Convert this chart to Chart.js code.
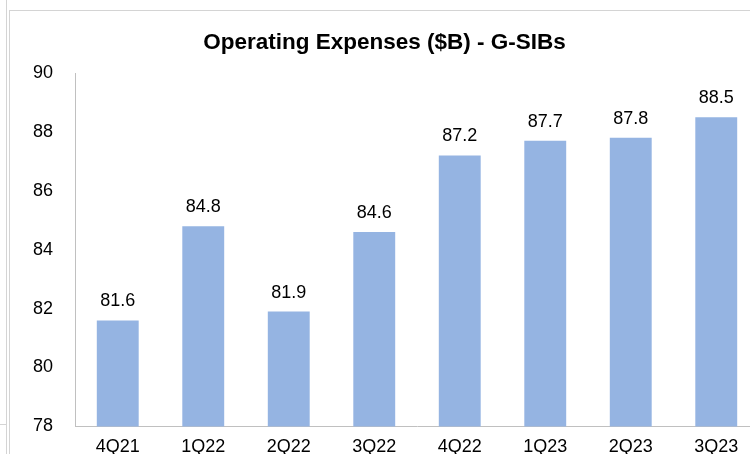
<!DOCTYPE html>
<html>
<head>
<meta charset="utf-8">
<script src="https://cdn.jsdelivr.net/npm/chart.js@4.4.0/dist/chart.umd.min.js"></script>
<style>
  html, body { margin: 0; padding: 0; background: #fff; overflow: hidden; width: 750px; height: 454px; }
  .frameLeft { position: absolute; left: 6px; top: 0; width: 1px; height: 454px; background: #d4d4d4; }
  .frameTick { position: absolute; left: 0; top: 424px; width: 6px; height: 1px; background: #d4d4d4; }
  .box { position: absolute; left: 9px; top: 10px; width: 760px; height: 470px; border-left: 1px solid #d4d4d4; border-top: 1px solid #d4d4d4; }
  .wrap { position: absolute; left: 10px; top: 11px; width: 752px; height: 457px; }
</style>
</head>
<body>
<div class="frameLeft"></div>
<div class="frameTick"></div>
<div class="box"></div>
<div class="wrap"><canvas id="myChart"></canvas></div>
<script>
const quarters = ['4Q21', '1Q22', '2Q22', '3Q22', '4Q22', '1Q23', '2Q23', '3Q23'];
const opexValues = [81.6, 84.8, 81.9, 84.6, 87.2, 87.7, 87.8, 88.5];
const yTicks = [78, 80, 82, 84, 86, 88, 90];

const ctx = document.getElementById('myChart').getContext('2d');

// simple value labels above each bar
const barLabels = {
  id: 'barLabels',
  afterDatasetsDraw(chart) {
    const c = chart.ctx;
    const meta = chart.getDatasetMeta(0);
    c.save();
    c.font = '18px "Liberation Sans", Arial, sans-serif';
    c.fillStyle = '#000';
    c.textAlign = 'center';
    c.textBaseline = 'alphabetic';
    meta.data.forEach((bar, i) => {
      c.fillText(opexValues[i].toFixed(1), bar.x, bar.y - 14);
    });
    c.restore();
  }
};

const myChart = new Chart(ctx, {
  type: 'bar',
  data: {
    labels: quarters,
    datasets: [{
      data: opexValues,
      backgroundColor: '#95B4E2',
      borderWidth: 0,
      categoryPercentage: 1,
      barPercentage: 0.49
    }]
  },
  options: {
    responsive: true,
    maintainAspectRatio: false,
    animation: false,
    layout: { padding: { left: 0, right: 3, top: 0, bottom: 0 } },
    plugins: {
      legend: { display: false },
      tooltip: { enabled: false },
      title: {
        display: true,
        text: 'Operating Expenses ($B) - G-SIBs',
        color: '#000',
        font: { family: '"Liberation Sans", Arial, sans-serif', size: 22.5, weight: 'bold' },
        padding: { top: 18, bottom: 17 }
      }
    },
    scales: {
      x: {
        grid: { display: false, drawTicks: false },
        border: { color: '#c0c0c0', width: 1 },
        ticks: {
          color: '#000',
          padding: 10,
          maxRotation: 0,
          font: { family: '"Liberation Sans", Arial, sans-serif', size: 18 }
        }
      },
      y: {
        min: 78,
        max: 90,
        afterBuildTicks: axis => { axis.ticks = yTicks.map(v => ({ value: v })); },
        afterFit: axis => { axis.width = 65; },
        grid: { display: false, drawTicks: false },
        border: { color: '#c0c0c0', width: 1 },
        ticks: {
          color: '#000',
          padding: 22,
          font: { family: '"Liberation Sans", Arial, sans-serif', size: 18 }
        }
      }
    }
  },
  plugins: [barLabels]
});
</script>
</body>
</html>
